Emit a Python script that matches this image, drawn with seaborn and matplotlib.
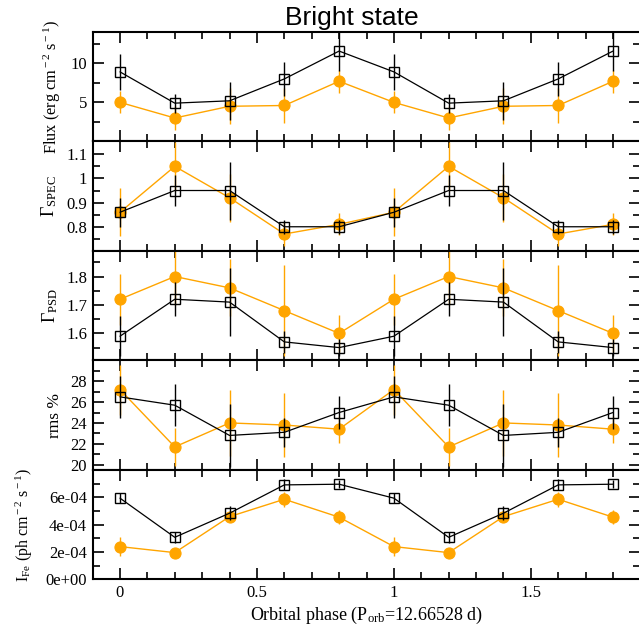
import numpy as np
import pandas as pd
import matplotlib
matplotlib.use("Agg")
import matplotlib.pyplot as plt
from matplotlib.ticker import FixedLocator, FuncFormatter
import seaborn as sns

# ---------------- data ----------------
phase = [0.0, 0.2, 0.4, 0.6, 0.8, 1.0, 1.2, 1.4, 1.6, 1.8]

flux_blk = [8.9, 4.9, 5.2, 8.0, 11.56, 8.9, 4.9, 5.2, 8.0, 11.56]
flux_blk_err = [2.3, 1.2, 2.4, 2.2, 2.5, 2.3, 1.2, 2.4, 2.2, 2.5]
flux_org = [5.0, 3.0, 4.5, 4.6, 7.7, 5.0, 3.0, 4.5, 4.6, 7.7]
flux_org_err = [1.4, 1.5, 2.3, 2.2, 1.5, 1.4, 1.5, 2.3, 2.2, 1.5]

gspec_blk = [0.86, 0.95, 0.95, 0.80, 0.80, 0.86, 0.95, 0.95, 0.80, 0.80]
gspec_blk_err = [0.06, 0.063, 0.12, 0.03, 0.03, 0.06, 0.063, 0.12, 0.03, 0.03]
gspec_org = [0.86, 1.05, 0.92, 0.77, 0.81, 0.86, 1.05, 0.92, 0.77, 0.81]
gspec_org_err = [0.10, 0.10, 0.10, 0.05, 0.045, 0.10, 0.10, 0.10, 0.05, 0.045]

gpsd_blk = [1.59, 1.72, 1.71, 1.57, 1.55, 1.59, 1.72, 1.71, 1.57, 1.55]
gpsd_blk_err = [0.07, 0.06, 0.12, 0.04, 0.03, 0.07, 0.06, 0.12, 0.04, 0.03]
gpsd_org = [1.72, 1.80, 1.76, 1.68, 1.60, 1.72, 1.80, 1.76, 1.68, 1.60]
gpsd_org_err = [0.09, 0.10, 0.10, 0.16, 0.065, 0.09, 0.10, 0.10, 0.16, 0.065]

rms_blk = [26.5, 25.7, 22.8, 23.1, 25.0, 26.5, 25.7, 22.8, 23.1, 25.0]
rms_blk_err = [2.0, 2.0, 3.0, 1.4, 1.6, 2.0, 2.0, 3.0, 1.4, 1.6]
rms_org = [27.2, 21.7, 24.0, 23.8, 23.4, 27.2, 21.7, 24.0, 23.8, 23.4]
rms_org_err = [2.4, 1.8, 3.2, 3.1, 1.3, 2.4, 1.8, 3.2, 3.1, 1.3]

ife_blk = [5.93e-4, 3.07e-4, 4.83e-4, 6.9e-4, 6.95e-4, 5.93e-4, 3.07e-4, 4.83e-4, 6.9e-4, 6.95e-4]
ife_blk_err = [0.35e-4, 0.4e-4, 0.5e-4, 0.4e-4, 0.3e-4, 0.35e-4, 0.4e-4, 0.5e-4, 0.4e-4, 0.3e-4]
ife_org = [2.39e-4, 1.95e-4, 4.58e-4, 5.85e-4, 4.54e-4, 2.39e-4, 1.95e-4, 4.58e-4, 5.85e-4, 4.54e-4]
ife_org_err = [0.7e-4, 0.2e-4, 0.4e-4, 0.55e-4, 0.5e-4, 0.7e-4, 0.2e-4, 0.4e-4, 0.55e-4, 0.5e-4]

ylabels = [
    "Flux (erg cm$^{\\rm -2}$ s$^{\\rm -1}$)",
    "Γ$_{\\rm SPEC}$",
    "Γ$_{\\rm PSD}$",
    "rms %",
    "I$_{\\rm Fe}$ (ph cm$^{\\rm -2}$ s$^{\\rm -1}$)",
]
xlabel = "Orbital phase (P$_{\\rm orb}$=12.66528 d)"
title = "Bright state"

# ---------------- style ----------------
sns.set_theme(style="ticks")
plt.rcParams["font.family"] = ["Liberation Serif", "DejaVu Serif"]
plt.rcParams["mathtext.fontset"] = "custom"
plt.rcParams["mathtext.rm"] = "Liberation Serif"
plt.rcParams["mathtext.it"] = "Liberation Serif:italic"
plt.rcParams["mathtext.bf"] = "Liberation Serif:bold"

ORANGE = "#FFA500"

panels = [
    dict(blk=flux_blk, be=flux_blk_err, org=flux_org, oe=flux_org_err,
         ylim=(0, 14), major=[5, 10], minor=[2.5, 7.5, 12.5], fmt="g", lx=-0.054, fs=11.8),
    dict(blk=gspec_blk, be=gspec_blk_err, org=gspec_org, oe=gspec_org_err,
         ylim=(0.70, 1.153), major=[0.8, 0.9, 1.0, 1.1], minor=[0.75, 0.85, 0.95, 1.05], fmt="g", lx=-0.061, fs=13),
    dict(blk=gpsd_blk, be=gpsd_blk_err, org=gpsd_org, oe=gpsd_org_err,
         ylim=(1.505, 1.89), major=[1.6, 1.7, 1.8], minor=[1.55, 1.65, 1.75, 1.85], fmt="g", lx=-0.06, fs=13),
    dict(blk=rms_blk, be=rms_blk_err, org=rms_org, oe=rms_org_err,
         ylim=(19.5, 30), major=[20, 22, 24, 26, 28], minor=[21, 23, 25, 27, 29], fmt="g", lx=-0.054, fs=12.5),
    dict(blk=ife_blk, be=ife_blk_err, org=ife_org, oe=ife_org_err,
         ylim=(0, 8e-4), major=[0, 2e-4, 4e-4, 6e-4], minor=[1e-4, 3e-4, 5e-4, 7e-4], fmt="e", lx=-0.105, fs=11.5),
]

fig = plt.figure(figsize=(6.39, 6.30), dpi=100)
gs = fig.add_gridspec(5, 1, left=92.6 / 639, right=640.4 / 639,
                      top=1 - 32 / 630, bottom=1 - 579.3 / 630, hspace=0)

axes = []
for i, p in enumerate(panels):
    ax = fig.add_subplot(gs[i, 0], sharex=axes[0] if axes else None)
    axes.append(ax)
    df = pd.DataFrame({"phase": phase, "blk": p["blk"], "org": p["org"]})

    # orange series (filled circles)
    ax.errorbar(phase, p["org"], yerr=p["oe"], fmt="none", ecolor=ORANGE,
                elinewidth=1.0, capsize=0, zorder=2)
    sns.lineplot(data=df, x="phase", y="org", ax=ax, color=ORANGE, linewidth=1.0,
                 marker="o", markersize=8, markeredgecolor=ORANGE,
                 markerfacecolor=ORANGE, markeredgewidth=0.8, legend=False, zorder=3)
    # black series (open squares)
    ax.errorbar(phase, p["blk"], yerr=p["be"], fmt="none", ecolor="black",
                elinewidth=1.0, capsize=0, zorder=4)
    sns.lineplot(data=df, x="phase", y="blk", ax=ax, color="black", linewidth=0.9,
                 marker="s", markersize=7, markeredgecolor="black",
                 markerfacecolor="none", markeredgewidth=1.0, legend=False, zorder=5)

    ax.set_ylim(*p["ylim"])
    ax.set_xlim(-0.1, 1.9)
    ax.yaxis.set_major_locator(FixedLocator(p["major"]))
    ax.yaxis.set_minor_locator(FixedLocator(p["minor"]))
    if p["fmt"] == "e":
        ax.yaxis.set_major_formatter(FuncFormatter(lambda v, pos: f"{v:.0e}"))
    else:
        ax.yaxis.set_major_formatter(FuncFormatter(lambda v, pos: f"{v:g}"))
    ax.xaxis.set_major_locator(FixedLocator([0, 0.5, 1.0, 1.5]))
    ax.xaxis.set_minor_locator(FixedLocator([0.1, 0.2, 0.3, 0.4, 0.6, 0.7, 0.8, 0.9,
                                             1.1, 1.2, 1.3, 1.4, 1.6, 1.7, 1.8]))
    ax.tick_params(which="both", direction="in", top=True, right=True,
                   labelsize=12, colors="black", pad=4)
    ax.tick_params(which="major", length=8, width=1.2)
    ax.tick_params(which="minor", length=5, width=1.2)
    for s in ax.spines.values():
        s.set_linewidth(1.5)
        s.set_color("black")
    ax.set_ylabel(ylabels[i], fontsize=p["fs"], color="black")
    ax.yaxis.set_label_coords(p["lx"], 0.5)
    ax.set_xlabel("")
    if i < len(panels) - 1:
        ax.tick_params(labelbottom=False)

axes[-1].set_xticklabels(["0", "0.5", "1", "1.5"])
axes[-1].set_xlabel(xlabel, fontsize=13, color="black", labelpad=3)

fig.text(352 / 639, 1 - 25 / 630, title, family=["Liberation Sans", "DejaVu Sans"],
         fontsize=19, ha="center", va="baseline", color="black")

fig.savefig("out.png", dpi=100)
